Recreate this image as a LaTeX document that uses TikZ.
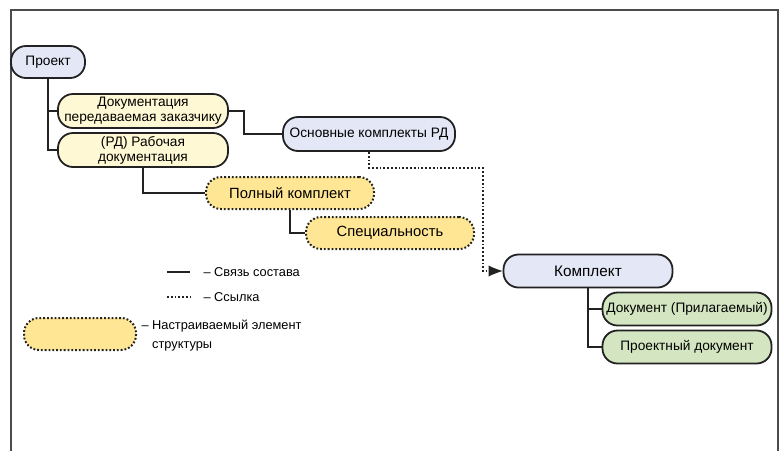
\documentclass[tikz,border=0pt]{standalone}
\usepackage{fontspec}
\setmainfont{Liberation Sans}
\usetikzlibrary{arrows.meta}
\definecolor{lav}{HTML}{E4E7F5}
\definecolor{cream}{HTML}{FFF8D4}
\definecolor{ylw}{HTML}{FFE694}
\definecolor{grn}{HTML}{D3E6C1}
\definecolor{ink}{HTML}{222222}
\begin{document}
\begin{tikzpicture}[x=1pt,y=-1pt,
pill/.style={draw=ink,line width=1.8pt,rounded corners=15pt,minimum height=32pt,inner sep=1pt,align=center,font=\fontsize{13.7}{15}\selectfont},
custom/.style={pill,fill=ylw,dotted,line width=2pt,font=\fontsize{14.8}{16}\selectfont},
lnk/.style={ink,line width=1.8pt},
ref/.style={ink,line width=1.8pt,dotted,-{Latex[length=14pt,width=11pt,line width=0pt]}},
lgd/.style={anchor=west,align=left,font=\fontsize{12.8}{19}\selectfont}
]
\useasboundingbox(0,0)rectangle(784,451);
%frame
\draw[gray!60!black,line width=1.5pt](11,451)--(11,10)--(778,10)--(778,451);

\node[pill,fill=lav,minimum width=74pt]at(48,62)(proj){Проект};
\node[pill,fill=cream,minimum width=170pt,minimum height=34pt]at(143,111)(doc){Документация\\передаваемая заказчику};
\node[pill,fill=cream,minimum width=170pt,minimum height=34pt]at(143,150)(rd){(РД) Рабочая\\документация};
\node[pill,fill=lav,minimum width=172pt,minimum height=34pt]at(369,134)(osn){Основные комплекты РД};
\node[custom,minimum width=168pt]at(290,193)(poln){Полный комплект};
\node[custom,minimum width=168pt]at(390,233)(spec){Специальность};
\node[pill,fill=lav,minimum width=169pt,minimum height=33pt,font=\fontsize{15.3}{17}\selectfont]at(588,271)(komp){Комплект};
\node[pill,fill=grn,minimum width=169pt,minimum height=33pt]at(687,309)(docp){Документ (Прилагаемый)};
\node[pill,fill=grn,minimum width=169pt,minimum height=33pt]at(687,347)(prd){Проектный документ};

\draw[lnk](proj.south)|-(doc.west);
\draw[lnk](proj.south)|-(rd.west);
\draw[lnk](doc.east)--++(15,0)|-(osn.west);
\draw[lnk](rd.south)|-(poln.west);
\draw[lnk](poln.south)|-(spec.west);
\draw[ref](osn.south)--++(0,16)-|([xshift=-20pt]komp.west)--(komp.west);
\draw[lnk](komp.south)|-(docp.west);
\draw[lnk](komp.south)|-(prd.west);

%legend
\coordinate(s1)at(167,272);\coordinate(s2)at(190,272);
\coordinate(d1)at(167,297);\coordinate(d2)at(190,297);
\draw[lnk](s1)--(s2);
\draw[lnk,dotted](d1)--(d2);
\node[lgd]at(200,272)(t1){– Связь состава};
\node[lgd]at(200,297)(t2){– Ссылка};
\node[custom,minimum width=112pt]at(80,334)(smp){};
\node[lgd]at(138,336)(t3){– Настраиваемый элемент\\\phantom{– }структуры};
\end{tikzpicture}
\end{document}
